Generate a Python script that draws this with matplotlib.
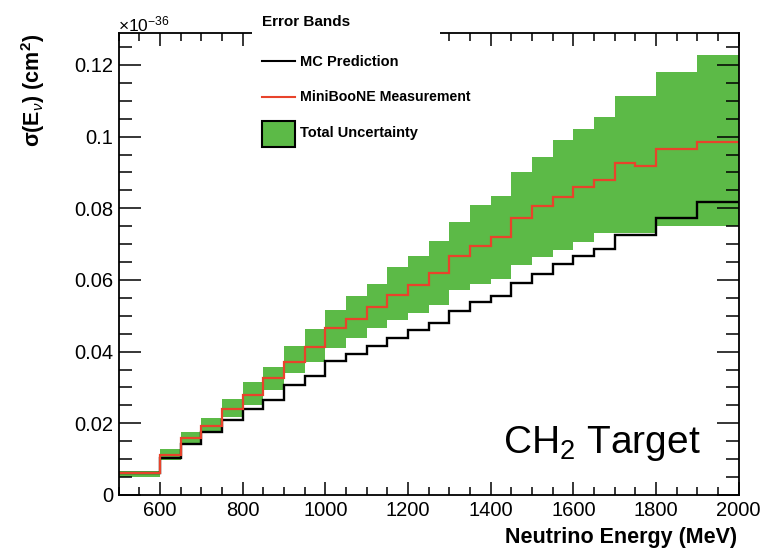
import matplotlib
matplotlib.use('Agg')
import matplotlib.pyplot as plt
from matplotlib.lines import Line2D
from matplotlib.patches import Rectangle
from matplotlib.ticker import MultipleLocator, FixedLocator, FixedFormatter

plt.rcParams['font.family'] = ['Liberation Sans', 'DejaVu Sans']
plt.rcParams['mathtext.fontset'] = 'custom'
plt.rcParams['mathtext.rm'] = 'Liberation Sans'
plt.rcParams['mathtext.it'] = 'Liberation Sans:italic'
plt.rcParams['mathtext.bf'] = 'Liberation Sans:bold'

# bin edges in MeV
bin_edges = [500, 600, 650, 700, 750, 800, 850, 900, 950, 1000, 1050, 1100,
             1150, 1200, 1250, 1300, 1350, 1400, 1450, 1500, 1550, 1600,
             1650, 1700, 1750, 1800, 1900, 2000]

# cross sections, units of 1e-36 cm^2
mc_pred = [0.0060, 0.0104, 0.0143, 0.0176, 0.0209, 0.0241, 0.0266, 0.0308,
           0.0332, 0.0373, 0.0393, 0.0415, 0.0438, 0.0460, 0.0480, 0.0513,
           0.0539, 0.0555, 0.0592, 0.0617, 0.0645, 0.0667, 0.0686, 0.0725,
           0.0725, 0.0772, 0.0818]
miniboone = [0.0062, 0.0112, 0.0158, 0.0193, 0.0240, 0.0280, 0.0326, 0.0372,
             0.0414, 0.0465, 0.0491, 0.0525, 0.0559, 0.0586, 0.0618, 0.0667,
             0.0695, 0.0719, 0.0772, 0.0805, 0.0832, 0.0860, 0.0879, 0.0925,
             0.0918, 0.0965, 0.0985]
band_hi = [0.0068, 0.0128, 0.0177, 0.0216, 0.0268, 0.0316, 0.0356, 0.0416,
           0.0462, 0.0516, 0.0555, 0.0590, 0.0635, 0.0667, 0.0708, 0.0762,
           0.0809, 0.0835, 0.0902, 0.0942, 0.0990, 0.1020, 0.1054, 0.1113,
           0.1113, 0.1181, 0.1227]
band_lo = [0.0049, 0.0098, 0.0142, 0.0177, 0.0218, 0.0251, 0.0294, 0.0339,
           0.0372, 0.0409, 0.0437, 0.0465, 0.0488, 0.0507, 0.0530, 0.0572,
           0.0590, 0.0604, 0.0642, 0.0664, 0.0683, 0.0707, 0.0732, 0.0732,
           0.0732, 0.0750, 0.0750]

y_ticks = [0, 0.02, 0.04, 0.06, 0.08, 0.1, 0.12]
y_ticklabels = ['0', '0.02', '0.04', '0.06', '0.08', '0.1', '0.12']
x_ticks = [600, 800, 1000, 1200, 1400, 1600, 1800, 2000]

green = '#5cba47'
red = '#e8432b'
W, H = 765, 555

fig = plt.figure(figsize=(W / 100, H / 100), dpi=100)
ax = fig.add_axes([118.7 / W, 60 / H, 620 / W, 462 / H])

ax.stairs(band_hi, bin_edges, baseline=band_lo, fill=True, color=green, lw=0)
ax.stairs(mc_pred, bin_edges, baseline=None, color='black', lw=1.7)
ax.stairs(miniboone, bin_edges, baseline=None, color=red, lw=1.6)

ax.set_xlim(500, 2000)
ax.set_ylim(0, 0.1289)

ax.xaxis.set_major_locator(FixedLocator(x_ticks))
ax.xaxis.set_minor_locator(MultipleLocator(50))
ax.yaxis.set_major_locator(FixedLocator(y_ticks))
ax.yaxis.set_major_formatter(FixedFormatter(y_ticklabels))
ax.yaxis.set_minor_locator(MultipleLocator(0.005))

for s in ax.spines.values():
    s.set_linewidth(1.3)
ax.tick_params(which='both', direction='in', top=True, right=True, width=1.1,
               labelsize=14.5, pad=4)
ax.tick_params(axis='x', which='major', length=9.5)
ax.tick_params(axis='x', which='minor', length=5.8)
ax.tick_params(axis='y', which='major', length=15.5)
ax.tick_params(axis='y', which='minor', length=9.4)

# exponent
fig.text(118 / W, 1 - 31 / H, r'$\times$10$^{-36}$', fontsize=12.5,
         ha='left', va='baseline')

# axis titles
fig.text(33 / W, 1 - 34 / H, r'σ(E$_{\nu}$) (cm$^{\mathbf{2}}$)',
         rotation=90, ha='center', va='top', fontsize=15.5, fontweight='bold')
fig.text(737 / W, 1 - 537 / H, 'Neutrino Energy (MeV)', ha='right',
         va='center', fontsize=15.5, fontweight='bold')

# target label
fig.text(701 / W, 1 - 453 / H, r'CH$_2$ Target', ha='right', va='baseline',
         fontsize=28)

# legend
fig.add_artist(Rectangle((252 / W, 1 - 155 / H), 188 / W, 155 / H,
                         transform=fig.transFigure, facecolor='white',
                         edgecolor='none', zorder=2))
fig.text(262 / W, 1 - 22 / H, 'Error Bands', fontsize=11, fontweight='bold',
         ha='left', va='center', zorder=3)
fig.add_artist(Line2D([262 / W, 295 / W], [1 - 61 / H] * 2, color='black',
                      lw=1.5, transform=fig.transFigure, zorder=3))
fig.text(300 / W, 1 - 61.5 / H, 'MC Prediction', fontsize=10.5,
         fontweight='bold', ha='left', va='center', zorder=3)
fig.add_artist(Line2D([262 / W, 295 / W], [1 - 96.5 / H] * 2, color=red,
                      lw=1.5, transform=fig.transFigure, zorder=3))
fig.text(300 / W, 1 - 97 / H, 'MiniBooNE Measurement', fontsize=10.2,
         fontweight='bold', ha='left', va='center', zorder=3)
fig.add_artist(Rectangle((262 / W, 1 - 146.7 / H), 33 / W, 26 / H,
                         transform=fig.transFigure, facecolor=green,
                         edgecolor='black', lw=1.5, zorder=3))
fig.text(300 / W, 1 - 133.5 / H, 'Total Uncertainty', fontsize=10.5,
         fontweight='bold', ha='left', va='center', zorder=3)

fig.savefig('out.png', dpi=100)
